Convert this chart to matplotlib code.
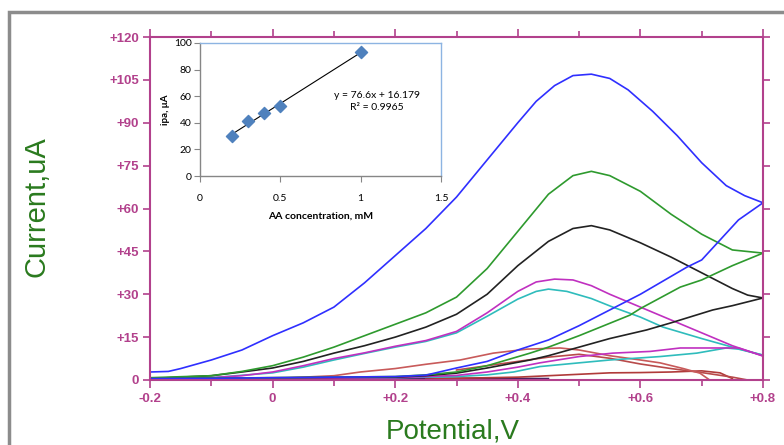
import matplotlib
matplotlib.use("Agg")
import matplotlib.pyplot as plt
import numpy as np
from matplotlib.patches import Rectangle

# ---- cyclic voltammograms (potential V, current uA)
blue_fwd_v = [-0.2, -0.17, -0.15, -0.1, -0.05, 0, 0.05, 0.1, 0.15, 0.2, 0.25, 0.3, 0.35, 0.4, 0.43, 0.46, 0.49, 0.52, 0.55, 0.58, 0.62, 0.66, 0.7, 0.74, 0.77, 0.8]
blue_fwd_i = [2.8, 3.0, 4.0, 7.0, 10.5, 15.5, 20, 25.5, 34, 43.5, 53, 64, 77, 90, 97.5, 103, 106.5, 107, 105.5, 101.5, 94, 85.5, 76, 68, 64.5, 62]
blue_rev_v = [0.8, 0.76, 0.7, 0.676, 0.6, 0.55, 0.5, 0.45, 0.4, 0.35, 0.3, 0.25, 0.2, 0.1, 0, -0.1, -0.2]
blue_rev_i = [62, 56, 42, 39.5, 30, 24.5, 19, 14, 10.5, 6.5, 4.2, 1.7, 1.2, 1.0, 0.8, 0.6, 0.5]

green_fwd_v = [-0.2, -0.1, -0.05, 0, 0.05, 0.1, 0.15, 0.2, 0.25, 0.3, 0.35, 0.4, 0.45, 0.49, 0.52, 0.55, 0.6, 0.65, 0.7, 0.75, 0.8]
green_fwd_i = [0.8, 1.5, 3, 5, 8, 11.5, 15.5, 19.5, 23.5, 29, 39, 52, 65, 71.5, 73, 71.5, 66, 58, 51, 45.5, 44.4]
green_rev_v = [0.8, 0.75, 0.7, 0.665, 0.6, 0.583, 0.5, 0.45, 0.42, 0.35, 0.3, 0.25, 0.2, 0.1, 0, -0.2]
green_rev_i = [44.4, 40, 35, 32.5, 25, 22.7, 15.5, 11.5, 9.4, 5, 2.8, 1.8, 1.2, 1.0, 0.8, 0.6]

black_fwd_v = [-0.2, -0.1, -0.05, 0, 0.05, 0.1, 0.15, 0.2, 0.25, 0.3, 0.35, 0.4, 0.45, 0.49, 0.52, 0.55, 0.6, 0.65, 0.7, 0.75, 0.775, 0.8]
black_fwd_i = [0.5, 1.5, 2.8, 4.2, 6.5, 9.4, 12, 15, 18.5, 23, 30, 40, 48.5, 53, 54, 52.5, 48, 43, 37.5, 32, 29.7, 28.7]
black_rev_v = [0.8, 0.75, 0.718, 0.65, 0.61, 0.55, 0.5, 0.45, 0.42, 0.35, 0.3, 0.25, 0.2, 0, -0.2]
black_rev_i = [28.7, 26, 24.5, 20, 17.5, 14.5, 11.5, 8.5, 7, 4.2, 2.4, 1.5, 1.0, 0.8, 0.5]

magenta_fwd_v = [-0.2, -0.1, -0.05, 0, 0.05, 0.1, 0.15, 0.2, 0.25, 0.3, 0.35, 0.4, 0.43, 0.46, 0.49, 0.52, 0.55, 0.6, 0.65, 0.7, 0.75, 0.8]
magenta_fwd_i = [0.3, 0.8, 1.5, 2.8, 5, 7.5, 9.5, 11.8, 13.8, 17, 23.5, 31, 34.3, 35.3, 35, 33, 30, 25.5, 21, 16.5, 12, 8.4]
magenta_rev_v = [0.8, 0.76, 0.7, 0.665, 0.616, 0.555, 0.5, 0.436, 0.4, 0.35, 0.3, 0.2, 0, -0.2]
magenta_rev_i = [8.4, 11.2, 11.2, 11.2, 10, 9.4, 8.2, 6, 4.5, 2.8, 1.6, 0.8, 0.5, 0.3]

cyan_fwd_v = [-0.2, -0.1, 0, 0.05, 0.1, 0.15, 0.2, 0.25, 0.3, 0.35, 0.4, 0.43, 0.45, 0.48, 0.52, 0.555, 0.6, 0.637, 0.7, 0.75, 0.8]
cyan_fwd_i = [0.3, 0.8, 2.5, 4.5, 7, 9.3, 11.5, 13.5, 16.5, 22.3, 28.3, 31, 31.8, 31, 28.5, 25.5, 22, 18.5, 14.5, 11.5, 8.7]
cyan_rev_v = [0.8, 0.76, 0.74, 0.692, 0.632, 0.55, 0.5, 0.436, 0.393, 0.35, 0.3, 0.2, 0, -0.2]
cyan_rev_i = [8.7, 10.8, 11.2, 9.4, 8.2, 7, 6, 4.7, 2.8, 1.8, 1.2, 0.8, 0.5, 0.3]

red_fwd_v = [-0.2, 0, 0.1, 0.143, 0.2, 0.25, 0.306, 0.36, 0.415, 0.469, 0.5, 0.55, 0.6, 0.632, 0.67, 0.697, 0.713]
red_fwd_i = [0.2, 0.5, 1.5, 2.8, 4, 5.5, 7, 9.4, 10.8, 11.2, 10.5, 8.5, 7, 6, 4, 2.4, 0]
red2_v = [0.3, 0.4, 0.45, 0.5, 0.55, 0.6, 0.65, 0.7, 0.75, 0.775]
red2_i = [3.5, 6.5, 8, 9, 7.6, 5.6, 4, 2.6, 1.0, 0]
red_rev_v = [0.25, 0.3, 0.4, 0.5, 0.55, 0.6, 0.65, 0.7, 0.73, 0.75]
red_rev_i = [0.3, 0.6, 1.0, 2.0, 2.5, 2.6, 2.8, 3.2, 2.5, 0.5]

base_v = [-0.2, 0.0, 0.2, 0.3, 0.45]
base_i = [0.4, 0.5, 0.6, 0.6, 0.5]

xtick_vals = [-0.2, 0, 0.2, 0.4, 0.6, 0.8]
xtick_text = ["-0.2", "0", "+0.2", "+0.4", "+0.6", "+0.8"]
ytick_vals = [0, 15, 30, 45, 60, 75, 90, 105, 120]
ytick_text = ["0", "+15", "+30", "+45", "+60", "+75", "+90", "+105", "+120"]

# ---- inset calibration data
conc = [0.2, 0.3, 0.4, 0.5, 1.0]
ipa = [30, 41, 47.5, 53, 93]
slope, intercept = 76.6, 16.179

axis_col = "#b2418c"
label_col = "#2a7a1e"

fig = plt.figure(figsize=(7.84, 4.45), dpi=100)
fig.patch.set_facecolor("white")

# outer grey frame
fig.patches.append(Rectangle((9 / 784, -0.05), 1.0, (445 - 12) / 445 + 0.05,
                             transform=fig.transFigure, fill=False,
                             edgecolor="#8c8c8c", linewidth=2.5))

ax = fig.add_axes([150 / 784, 65 / 445, 613 / 784, 343 / 445])
curves = [
    (base_v, base_i, "#4a2060"),
    (red_rev_v, red_rev_i, "#b03a3a"),
    (red2_v, red2_i, "#b84a4a"),
    (red_fwd_v, red_fwd_i, "#c85a5a"),
    (cyan_rev_v, cyan_rev_i, "#2fbcbc"),
    (cyan_fwd_v, cyan_fwd_i, "#2fbcbc"),
    (magenta_rev_v, magenta_rev_i, "#c030c0"),
    (magenta_fwd_v, magenta_fwd_i, "#c030c0"),
    (black_rev_v, black_rev_i, "#222222"),
    (black_fwd_v, black_fwd_i, "#222222"),
    (green_rev_v, green_rev_i, "#2e9a2e"),
    (green_fwd_v, green_fwd_i, "#2e9a2e"),
    (blue_rev_v, blue_rev_i, "#2f2fff"),
    (blue_fwd_v, blue_fwd_i, "#2f2fff"),
]
for v, i, c in curves:
    ax.plot(v, i, color=c, linewidth=1.2, clip_on=False, solid_joinstyle="round")

ax.set_xlim(-0.2, 0.8)
ax.set_ylim(0, 120)
ax.set_xticks(xtick_vals)
ax.set_xticklabels(xtick_text)
ax.set_xticks(np.arange(-0.1, 0.8, 0.2), minor=True)
ax.set_yticks(ytick_vals)
ax.set_yticklabels(ytick_text)
for s in ax.spines.values():
    s.set_color(axis_col)
    s.set_linewidth(1.5)
ax.tick_params(axis="both", which="both", colors=axis_col, direction="out", width=1.2)
ax.tick_params(axis="x", which="major", length=6, pad=3, top=True)
ax.tick_params(axis="x", which="minor", length=4, top=True)
ax.tick_params(axis="y", which="major", length=5, pad=3, right=True)
for lab in ax.get_xticklabels() + ax.get_yticklabels():
    lab.set_fontweight("bold")
    lab.set_fontsize(9.5)
    lab.set_color(axis_col)
    lab.set_family("Liberation Sans")

fig.text(453 / 784, 1 - 432 / 445, "Potential,V", color=label_col, fontsize=20,
         family="Liberation Sans", ha="center", va="center")
fig.text(36 / 784, 1 - 207 / 445, "Current,uA", color=label_col, fontsize=21,
         family="Liberation Sans", ha="center", va="center", rotation=90)

# ---- inset
ins = fig.add_axes([200 / 784, (445 - 176) / 445, 241 / 784, 133 / 445])
ins.set_facecolor("white")
xfit = np.array([conc[0], conc[-1]])
ins.plot(xfit, slope * xfit + intercept, color="black", linewidth=0.8, zorder=2)
ins.scatter(conc, ipa, marker="D", s=38, color="#4f81bd", zorder=3)
ins.set_xlim(0, 1.5)
ins.set_ylim(0, 100)
ins.set_xticks([0, 0.5, 1, 1.5])
ins.set_xticklabels(["0", "0.5", "1", "1.5"])
ins.set_yticks([0, 20, 40, 60, 80, 100])
ins.spines["top"].set_color("#8db4e2")
ins.spines["right"].set_color("#8db4e2")
ins.spines["left"].set_color("#868686")
ins.spines["bottom"].set_color("#868686")
for s in ins.spines.values():
    s.set_linewidth(1.0)
ins.tick_params(axis="x", direction="out", length=4, pad=9, labelsize=7.5, color="#868686")
ins.tick_params(axis="y", direction="out", length=4, pad=2, labelsize=7.5, color="#868686")
for lab in ins.get_xticklabels() + ins.get_yticklabels():
    lab.set_family("Lato")
ins.set_xlabel("AA concentration, mM", fontsize=7.5, fontweight="bold", family="Lato", labelpad=6)
ins.set_ylabel("ipa, \u03bcA", fontsize=7, fontweight="bold", family="Lato", labelpad=3)
ins.text(1.1, 56, "y = 76.6x + 16.179\nR\u00b2 = 0.9965", fontsize=7.5, family="Lato",
         ha="center", va="center", linespacing=1.3)

fig.savefig("out.png", dpi=100, facecolor="white")
